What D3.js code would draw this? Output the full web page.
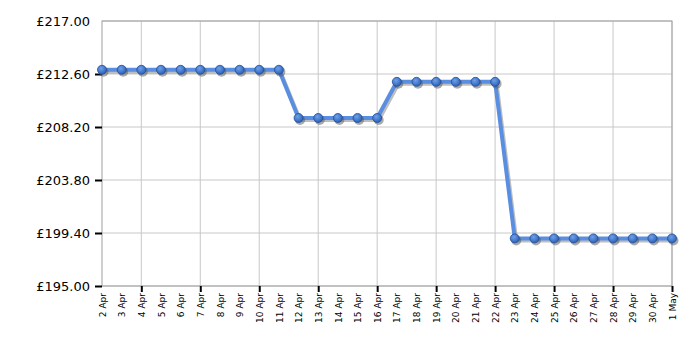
<!DOCTYPE html>
<meta charset="utf-8">
<style>
body { margin: 0; background: #fff; }
.axis text { font-family: "DejaVu Sans", Verdana, sans-serif; fill: #000; }
.grid line { stroke: #c8c8c8; stroke-width: 1; }
</style>
<svg width="700" height="350"></svg>
<script src="https://d3js.org/d3.v7.min.js"></script>
<script>

var dates = ["2 Apr","3 Apr","4 Apr","5 Apr","6 Apr","7 Apr","8 Apr","9 Apr","10 Apr","11 Apr",
  "12 Apr","13 Apr","14 Apr","15 Apr","16 Apr","17 Apr","18 Apr","19 Apr","20 Apr","21 Apr",
  "22 Apr","23 Apr","24 Apr","25 Apr","26 Apr","27 Apr","28 Apr","29 Apr","30 Apr","1 May"];
var prices = [212.95,212.95,212.95,212.95,212.95,212.95,212.95,212.95,212.95,212.95,
  208.95,208.95,208.95,208.95,208.95,211.95,211.95,211.95,211.95,211.95,
  211.95,198.95,198.95,198.95,198.95,198.95,198.95,198.95,198.95,198.95];
var yTicks = [195.00, 199.40, 203.80, 208.20, 212.60, 217.00];

var svg = d3.select("svg"),
    plotLeft = 102, plotRight = 672, plotTop = 21, plotBottom = 286;

var x = d3.scalePoint().domain(dates).range([plotLeft, plotRight]);
var y = d3.scaleLinear().domain([195, 217]).range([plotBottom, plotTop]);

var defs = svg.append("defs");
var grad = defs.append("radialGradient").attr("id", "dot")
    .attr("cx", "40%").attr("cy", "35%").attr("r", "65%");
grad.append("stop").attr("offset", "0%").attr("stop-color", "#6fa0ea");
grad.append("stop").attr("offset", "100%").attr("stop-color", "#2d62b8");

// grid
var grid = svg.append("g").attr("class", "grid");
grid.selectAll("line.h").data(yTicks).enter().append("line")
    .attr("x1", plotLeft).attr("x2", plotRight)
    .attr("y1", function(d) { return y(d); }).attr("y2", function(d) { return y(d); });
var major = dates.filter(function(d, i) { return i % 3 == 2; });
grid.selectAll("line.v").data(major).enter().append("line")
    .attr("y1", plotTop).attr("y2", plotBottom)
    .attr("x1", function(d) { return x(d); }).attr("x2", function(d) { return x(d); });

svg.append("rect").attr("x", plotLeft).attr("y", plotTop)
    .attr("width", plotRight - plotLeft).attr("height", plotBottom - plotTop)
    .attr("fill", "none").attr("stroke", "#a0a0a0");

// axes
var yAxis = svg.append("g").attr("class", "axis")
    .attr("transform", "translate(" + plotLeft + ",0)")
    .call(d3.axisLeft(y).tickValues(yTicks).tickSize(7).tickPadding(5)
      .tickFormat(function(d) { return "£" + d3.format(".2f")(d); }));
yAxis.select(".domain").remove();
yAxis.selectAll("line").attr("stroke", "#000").attr("stroke-width", 2)
    .filter(function(d) { return d == 217; }).remove();
yAxis.selectAll("text").style("font-size", "13px");

var xAxis = svg.append("g").attr("class", "axis")
    .attr("transform", "translate(0," + plotBottom + ")")
    .call(d3.axisBottom(x).tickSize(0));
xAxis.select(".domain").remove();
xAxis.selectAll("text")
    .style("font-size", "9px")
    .attr("text-anchor", "end")
    .attr("transform", "rotate(-90)")
    .attr("x", -7).attr("y", 0).attr("dy", "0.35em");
xAxis.selectAll(".tick").filter(function(d, i) { return i % 3 == 2; })
    .append("line").attr("y1", 0).attr("y2", 6).attr("stroke", "#000").attr("stroke-width", 2);

// line with shadow
var line = d3.line().x(function(d, i) { return x(dates[i]); }).y(function(d) { return y(d); });
svg.append("path").datum(prices).attr("d", line)
    .attr("transform", "translate(1.5,2)")
    .attr("fill", "none").attr("stroke", "#888").attr("stroke-opacity", 0.55).attr("stroke-width", 4);
svg.append("path").datum(prices).attr("d", line)
    .attr("fill", "none").attr("stroke", "#5a8ee0").attr("stroke-width", 4)
    .attr("stroke-linejoin", "round");

svg.selectAll("circle.sh").data(prices).enter().append("circle")
    .attr("cx", function(d, i) { return x(dates[i]) + 1.5; })
    .attr("cy", function(d) { return y(d) + 2; })
    .attr("r", 5).attr("fill", "#555").attr("fill-opacity", 0.5);
svg.selectAll("circle.pt").data(prices).enter().append("circle")
    .attr("cx", function(d, i) { return x(dates[i]); })
    .attr("cy", function(d) { return y(d); })
    .attr("r", 4.5).attr("fill", "url(#dot)").attr("stroke", "#1f4f9a").attr("stroke-width", 0.8);

</script>
